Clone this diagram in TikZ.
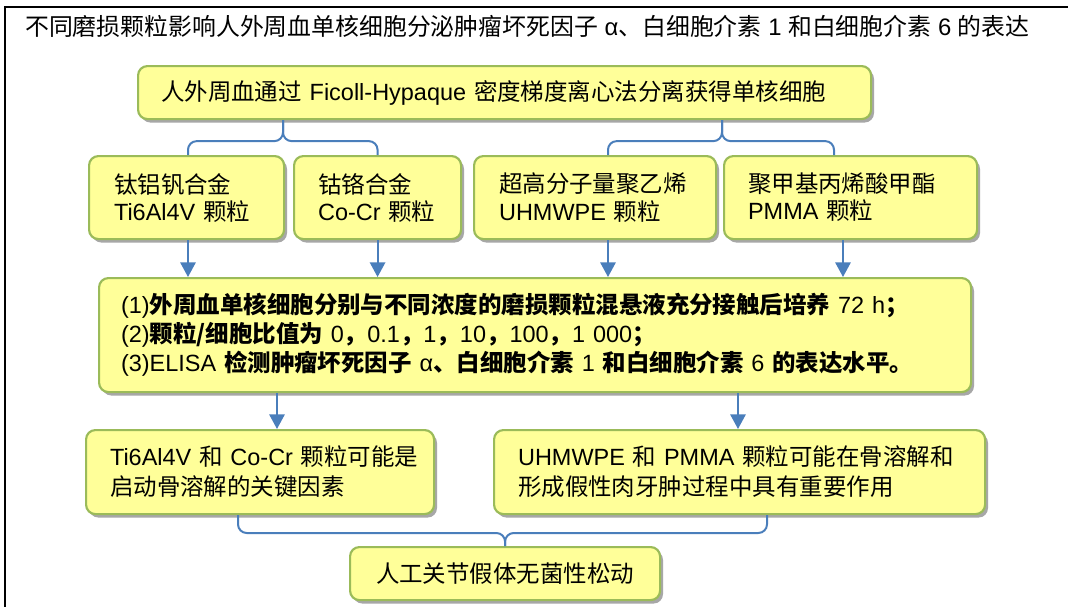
\documentclass[tikz,border=0pt]{standalone}
\usepackage{fontspec}
\setmainfont{Liberation Sans}
\newfontfamily\cjk{Noto Sans CJK SC}
\usetikzlibrary{arrows.meta,shadows,calc}
\newdimen\upx \upx=0.75pt
\newcommand\zh[1]{{\cjk #1}}
\newcommand\zb[1]{{\cjk\bfseries #1}}
\definecolor{boxfill}{HTML}{FFFF99}
\definecolor{boxline}{HTML}{9BBB59}
\definecolor{conn}{HTML}{4A7EBB}
\begin{document}
\begin{tikzpicture}[x=\upx,y=-\upx,
  box/.style={draw=boxline, fill=boxfill, line width=1.6pt, rounded corners=7pt,
    anchor=north west, align=left, inner ysep=0pt,
    drop shadow={shadow xshift=2.2pt, shadow yshift=-2.6pt, fill=black!38, opacity=0.9}},
  con/.style={draw=conn, line width=1.5pt, rounded corners=6.5pt},
  arr/.style={draw=conn, line width=1.5pt, -{Triangle[width=11.5pt,length=11pt]}},
  fa/.style={font=\fontsize{17.6}{20.3}\selectfont},
  fb/.style={font=\fontsize{17.6}{21.8}\selectfont},
  fc/.style={font=\fontsize{17.6}{22.5}\selectfont},
]
\useasboundingbox (0,0) rectangle (1068,607);
\fill[white] (0,0) rectangle (1068,607);
\draw[line width=1.5pt] (5,607) -- (5,7) -- (1068,7);

\node[anchor=west, inner sep=0pt, font=\fontsize{17.9}{20}\selectfont] (title) at (25,26)
  {\zh{不同磨损颗粒影响人外周血单核细胞分泌肿瘤坏死因子} α\zh{、白细胞介素} 1 \zh{和白细胞介素} 6 \zh{的表达}};

\node[box, fa, minimum width=733\upx, minimum height=53\upx, text width=687\upx, inner xsep=23\upx] (T) at (137,65)
  {\mbox{\zh{人外周血通过} Ficoll-Hypaque \zh{密度梯度离心法分离获得单核细胞}}};

\node[box, fa, minimum width=195\upx, minimum height=83\upx, text width=145\upx, inner xsep=25\upx] (A) at (88,155)
  {\mbox{\zh{钛铝钒合金}}\\\mbox{Ti6Al4V \zh{颗粒}}};
\node[box, fa, minimum width=167\upx, minimum height=83\upx, text width=119\upx, inner xsep=24\upx] (B) at (293,155)
  {\mbox{\zh{钴铬合金}}\\\mbox{Co-Cr \zh{颗粒}}};
\node[box, fa, minimum width=242\upx, minimum height=83\upx, text width=192\upx, inner xsep=25\upx] (C) at (473,155)
  {\mbox{\zh{超高分子量聚乙烯}}\\\mbox{UHMWPE \zh{颗粒}}};
\node[box, fa, minimum width=253\upx, minimum height=83\upx, text width=205\upx, inner xsep=24\upx] (D) at (723,155)
  {\mbox{\zh{聚甲基丙烯酸甲酯}}\\\mbox{PMMA \zh{颗粒}}};

\node[box, fb, minimum width=872\upx, minimum height=114\upx, text width=828\upx, inner xsep=22\upx] (M) at (98,277)
  {\mbox{(1)\zb{外周血单核细胞分别与不同浓度的磨损颗粒混悬液充分接触后培养} 72 h\zb{；}}\\
   \mbox{(2)\zb{颗粒/细胞比值为} 0\zb{，}0.1\zb{，}1\zb{，}10\zb{，}100\zb{，}1 000\zb{；}}\\
   \mbox{(3)ELISA \zb{检测肿瘤坏死因子} α\zb{、白细胞介素} 1 \zb{和白细胞介素} 6 \zb{的表达水平。}}};

\node[box, fc, minimum width=348\upx, minimum height=84\upx, text width=300\upx, inner xsep=24\upx] (E) at (85,429)
  {\mbox{Ti6Al4V \zh{和} Co-Cr \zh{颗粒可能是}}\\\mbox{\zh{启动骨溶解的关键因素}}};
\node[box, fc, minimum width=491\upx, minimum height=84\upx, text width=443\upx, inner xsep=24\upx] (F) at (493,429)
  {\mbox{UHMWPE \zh{和} PMMA \zh{颗粒可能在骨溶解和}}\\\mbox{\zh{形成假性肉牙肿过程中具有重要作用}}};
\node[box, fa, align=center, minimum width=310\upx, minimum height=53\upx, text width=262\upx, inner xsep=24\upx] (G) at (349,546)
  {\mbox{\zh{人工关节假体无菌性松动}}};

% top braces
\coordinate (t1) at ([xshift=146\upx]T.south west);
\coordinate (t2) at ([xshift=585\upx]T.south west);
\coordinate (h1) at ([yshift=-21\upx]t1);
\coordinate (h2) at ([yshift=-21\upx]t2);
\coordinate (pa) at ([xshift=100\upx]A.north west);
\coordinate (pb) at (B.north);
\coordinate (pc) at ([xshift=135\upx]C.north west);
\coordinate (pd) at ([xshift=111\upx]D.north west);
\draw[con] (pa) -- (pa |- h1) -- (h1) -- (t1);
\draw[con] (pb) -- (pb |- h1) -- (h1) -- (t1);
\draw[con] (pc) -- (pc |- h2) -- (h2) -- (t2);
\draw[con] (pd) -- (pd |- h2) -- (h2) -- (t2);

% arrows to middle box
\coordinate (qa) at ([xshift=100\upx]A.south west);
\coordinate (qb) at (B.south);
\coordinate (qc) at ([xshift=135\upx]C.south west);
\coordinate (qd) at ([xshift=120\upx]D.south west);
\draw[arr] (qa) -- (qa |- M.north);
\draw[arr] (qb) -- (qb |- M.north);
\draw[arr] (qc) -- (qc |- M.north);
\draw[arr] (qd) -- (qd |- M.north);

% arrows to conclusion boxes
\coordinate (ma) at ([xshift=179\upx]M.south west);
\coordinate (mb) at ([xshift=640\upx]M.south west);
\draw[arr] (ma) -- (ma |- E.north);
\draw[arr] (mb) -- (mb |- F.north);

% bottom brace
\coordinate (g1) at (G.north);
\coordinate (h3) at ([yshift=13\upx]G.north);
\coordinate (be) at ([xshift=153\upx]E.south west);
\coordinate (bf) at ([xshift=274\upx]F.south west);
\draw[con] (be) -- (be |- h3) -- (h3) -- (g1);
\draw[con] (bf) -- (bf |- h3) -- (h3) -- (g1);
\end{tikzpicture}
\end{document}
